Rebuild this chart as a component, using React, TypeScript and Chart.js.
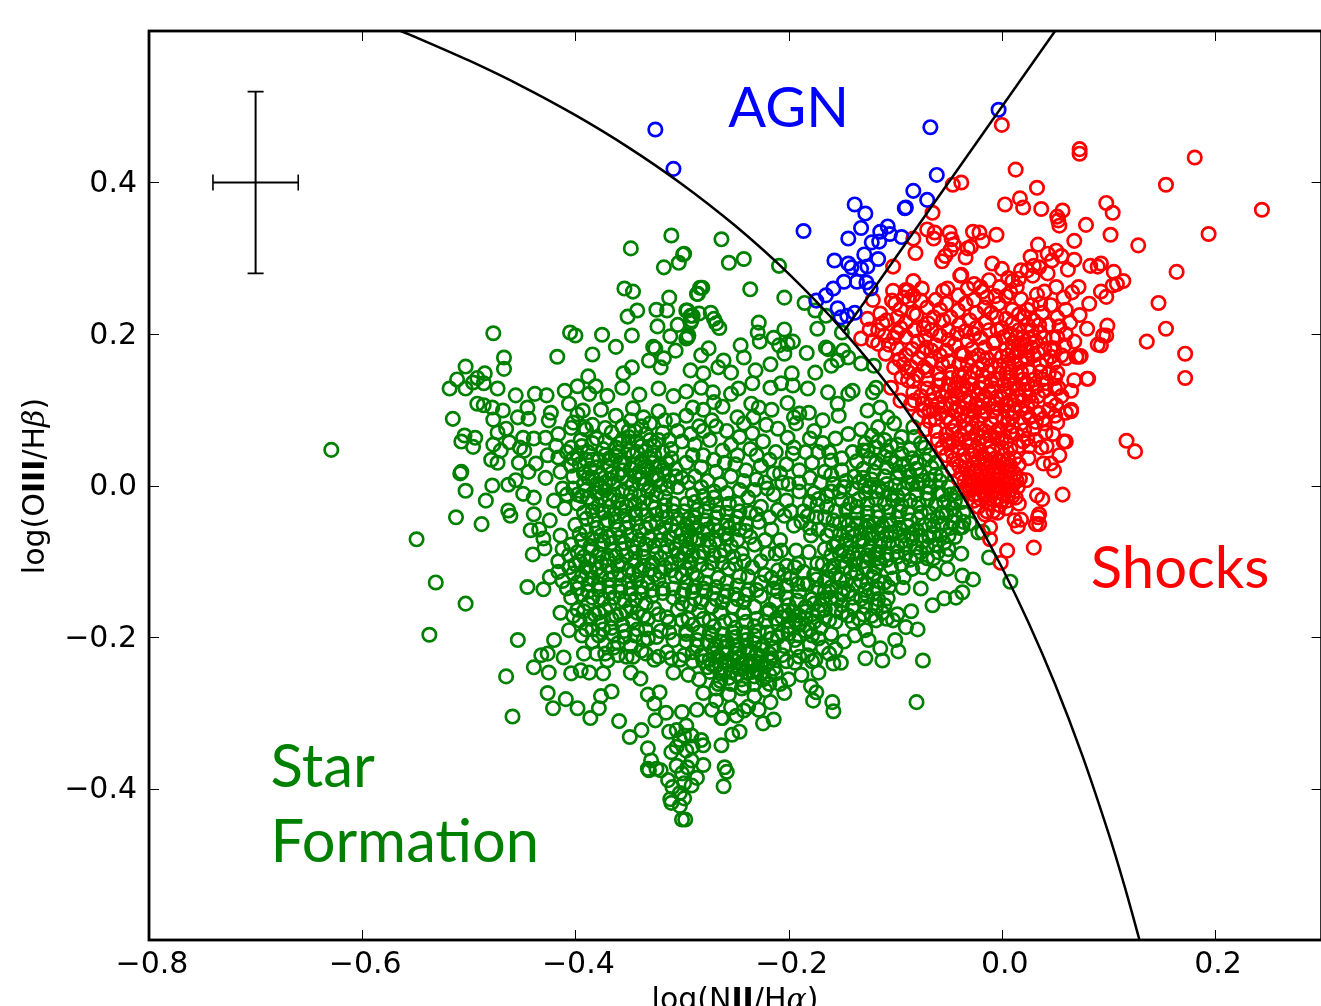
import React, { useEffect, useRef } from "react";
import { Chart, registerables } from "chart.js";
Chart.register(...registerables);

type P = [number, number];

const xTickValues = [-0.8, -0.6, -0.4, -0.2, 0, 0.2];
const yTickValues = [-0.4, -0.2, 0, 0.2, 0.4];

const agnPoints: P[] = [[-.325,.470],[-.308,.418],[-.003,.496],[-.067,.473],[-.061,.410],[-.083,.389],[-.070,.377],[-.090,.367],[-.091,.366],[-.138,.371],[-.128,.359],[-.186,.336],[-.132,.340],[-.144,.326],[-.107,.342],[-.114,.335],[-.105,.332],[-.094,.328],[-.115,.322],[-.122,.321],[-.129,.305],[-.116,.299],[-.157,.297],[-.144,.293],[-.141,.288],[-.132,.286],[-.126,.289],[-.148,.269],[-.136,.269],[-.127,.268],[-.123,.260],[-.158,.260],[-.165,.251],[-.174,.244],[-.154,.234],[-.151,.222],[-.145,.224],[-.138,.228]];

const shockOuter: P[] = [[.244,.364],[.194,.332],[.181,.433],[.154,.397],[.128,.317],[.164,.282],[.147,.241],[.154,.207],[.172,.174],[.172,.142],[.136,.190],[.117,.059],[.125,.045],[.098,.373],[.104,.360],[.079,.344],[.102,.331],[.093,.293],[.090,.289],[.114,.270],[.105,.282],[.104,.264],[.108,.266],[.093,.256],[.098,.249],[.083,.290],[.099,.211],[.093,.185],[.098,.198],[.082,.240],[.080,.207],[.070,.170],[.074,.171],[.080,.141],[.000,.476],[.013,.417],[.033,.393],[.073,.444],[.073,.438],[-.046,.397],[-.038,.400],[.017,.379],[.003,.371],[.020,.367],[.037,.365],[.057,.363],[.052,.355],[.053,.350],[.054,.343],[-.065,.360]];

const shockUpper: P[] = [[-.070,.338],[-.063,.334],[-.064,.326],[-.083,.326],[-.081,.307],[-.049,.334],[-.047,.325],[-.045,.318],[-.048,.311],[-.053,.303],[-.056,.296],[-.027,.335],[-.021,.334],[-.018,.323],[-.005,.331],[-.029,.315],[-.032,.313],[-.034,.301],[-.102,.289],[.034,.318],[.068,.323],[.027,.302],[-.009,.293],[0,.286],[-.038,.278],[.051,.310],[.043,.306],[.056,.303],[.068,.298],[.030,.290],[.024,.284],[.035,.288],[.029,.277],[.043,.280],[.018,.284],[.006,.274],[.010,.270],[.016,.273],[.047,.297],[.062,.285],[.072,.262],[.066,.255],[.058,.248],[.051,.262],[.040,.256],[.033,.252],[.046,.238],[.060,.232],[.073,.225],[.064,.215],[.052,.222],[.038,.228],[.028,.238],[.018,.246],[.008,.255],[-.002,.262],[-.012,.271],[-.020,.262],[-.014,.248],[-.003,.240],[.010,.232],[.021,.222]];

const shockLeft: P[] = [[-.121,.245],[-.126,.220],[-.114,.227],[-.112,.214],[-.102,.257],[-.103,.244],[-.088,.257],[-.083,.270],[-.083,.251],[-.076,.244],[-.083,.227],[-.080,.225],[-.095,.233],[-.095,.208],[-.098,.202],[-.101,.195],[-.116,.187],[-.121,.191],[-.132,.194],[-.109,.174],[-.098,.181],[-.079,.190],[-.071,.182],[-.064,.222],[-.069,.214],[-.055,.218],[-.051,.260],[-.055,.257],[-.039,.277],[-.041,.251],[-.041,.231],[-.048,.222],[-.026,.266],[-.032,.260],[-.024,.228],[-.026,.200],[-.032,.191],[-.101,.156],[-.104,.129],[-.085,.156],[-.088,.139],[-.083,.123],[-.095,.112],[-.073,.099],[-.073,.156],[-.090,.258],[-.087,.245],[-.075,.260],[-.066,.205],[-.058,.198],[-.050,.205],[-.040,.212],[-.030,.218],[-.015,.215],[-.005,.222],[-.012,.205],[.000,.208],[.010,.214],[-.020,.195],[-.006,.190],[-.090,.196],[-.082,.205],[-.073,.208],[-.062,.185],[-.052,.178],[-.044,.186],[-.036,.172],[-.090,.172],[-.078,.168],[-.066,.165],[-.056,.160],[-.047,.150],[-.094,.143],[-.079,.146],[-.069,.140],[-.060,.132],[-.076,.118],[-.066,.112],[-.056,.118],[-.050,.132],[-.085,.108],[-.078,.090],[-.068,.085],[-.058,.095],[-.062,.072],[-.052,.068],[-.048,.084],[-.056,.050],[-.047,.045],[-.041,.062]];

const shockCore: P[] = [[-.040,.145],[-.036,.132],[-.030,.142],[-.026,.125],[-.042,.118],[-.034,.112],[-.024,.108],[-.018,.135],[-.016,.118],[-.012,.150],[-.008,.128],[-.022,.155],[-.032,.160],[-.014,.168],[-.002,.158],[.006,.172],[.012,.160],[.004,.148],[.016,.176],[.010,.188],[.020,.195],[.024,.168],[.018,.150],[.028,.182],[.036,.160],[.030,.140],[.012,.135],[.002,.122],[.022,.126],[.008,.112],[-.004,.102],[.018,.100],[.028,.110],[.040,.125],[.034,.096],[.044,.148],[.046,.112],[-.038,.095],[-.028,.088],[-.018,.092],[-.010,.082],[-.002,.075],[.010,.090],[.014,.068],[.004,.058],[-.034,.075],[-.024,.068],[-.014,.060],[-.040,.050],[-.030,.052],[-.020,.045],[-.008,.045],[.002,.040],[.012,.036],[-.034,.032],[-.026,.028],[-.016,.026],[-.006,.024],[.004,.020],[.012,.016],[-.038,.016],[-.030,.012],[-.022,.008],[-.012,.006],[-.003,.008],[.006,.002],[.015,-.002],[-.028,.000],[-.018,-.006],[-.008,-.008],[.002,-.012],[.010,-.014],[-.020,-.018],[-.012,-.024],[-.002,-.026],[.005,-.020],[-.015,.035],[-.003,.034],[-.024,.020],[-.012,.015],[-.006,.000],[.003,.012],[-.016,.012],[-.032,.022],[.000,.050],[.008,.070],[-.020,.075],[-.030,.100],[-.008,.098],[.000,.115],[-.020,.128],[.008,.150],[.015,.118],[.026,.150],[.038,.140],[.022,.170],[.016,.205],[.028,.205],[.040,.195],[.035,.212],[.046,.180],[.060,.200],[.068,.190],[.056,.172]];

const shockDense: P[] = [[-.044,.128],[-.038,.122],[-.033,.128],[-.028,.134],[-.022,.120],[-.018,.112],[-.012,.124],[-.046,.108],[-.040,.104],[-.030,.116],[-.026,.097],[-.020,.103],[-.012,.108],[-.005,.116],[-.048,.142],[-.042,.136],[-.035,.148],[-.026,.150],[-.018,.146],[-.010,.138],[-.004,.140],[.002,.134],[.008,.128],[.014,.148],[.020,.140],[.006,.160],[.012,.170],[.018,.163],[.004,.180],[-.006,.174],[.014,.196],[.008,.200],[.022,.186],[.030,.172],[.026,.194],[.002,.196],[-.004,.205],[-.022,.172],[-.028,.180],[-.040,.160],[-.050,.164],[-.036,.086],[-.044,.078],[-.038,.066],[-.030,.062],[-.022,.056],[-.028,.076],[-.016,.072],[-.010,.066],[-.004,.062],[-.045,.034],[-.040,.026],[-.036,.040],[-.028,.040],[-.022,.034],[-.012,.042],[-.006,.036],[.002,.028],[.008,.026],[.016,.028],[-.035,.006],[-.026,.016],[-.020,.018],[-.014,.022],[-.008,.014],[-.002,.016],[.002,.002],[.008,.010],[.014,.006],[-.030,-.006],[-.024,-.004],[-.014,-.002],[-.010,.002],[.000,-.004],[.008,-.006],[-.026,-.012],[-.014,-.014],[-.006,-.016],[.000,-.020],[.004,-.030],[-.022,-.028],[-.014,-.034],[-.004,-.036],[.008,.048],[.016,.052],[.024,.062],[.018,.082],[.026,.090],[.010,.078],[.002,.088],[-.006,.090],[.024,.104],[.012,.106],[.006,.098],[.034,.118],[.044,.100],[.040,.082],[.032,.084],[.050,.092],[.050,.142],[.042,.165],[.034,.175],[.040,.180],[.048,.195],[.054,.210],[.044,.212],[.030,.218],[.024,.212],[-.060,.148],[-.070,.152],[-.064,.122],[-.070,.128],[-.072,.074],[-.062,.088],[-.054,.104],[-.052,.060],[-.049,.055],[-.083,.138],[-.092,.160],[-.110,.198],[-.106,.186],[-.116,.205],[-.124,.206],[-.108,.218],[-.098,.222],[-.090,.215],[-.100,.240],[-.092,.248],[-.070,.235],[-.062,.245],[-.058,.232],[-.052,.240],[-.034,.240],[-.026,.245],[-.016,.235],[-.010,.228],[-.006,.250],[.004,.250],[.014,.262]];

const shockExtra: P[] = [[-.058,.140],[-.052,.125],[-.047,.118],[-.044,.098],[-.036,.102],[-.032,.092],[-.022,.082],[-.016,.098],[-.006,.108],[.004,.108],[.012,.098],[.020,.112],[.026,.118],[.032,.130],[.024,.134],[.016,.128],[.006,.138],[-.002,.148],[-.010,.158],[-.018,.160],[-.028,.168],[-.038,.174],[-.016,.182],[-.008,.188],[.000,.170],[.010,.178],[.018,.186],[.024,.178],[.032,.190],[.036,.150],[.042,.135],[-.060,.108],[-.052,.090],[-.046,.072],[-.052,.040],[-.046,.022],[-.040,.008],[-.034,.058],[-.026,.046],[-.018,.038],[-.010,.030],[-.002,.024],[.006,.034],[-.018,.064],[-.006,.070],[.000,.062],[.006,.082],[-.014,.002],[-.020,-.002],[-.026,.004],[-.032,.000],[-.004,.002],[.010,.000],[-.018,.000],[-.008,-.002],[-.002,-.008],[.006,-.012],[-.016,-.012],[-.022,-.012],[-.074,.176],[-.066,.178],[-.058,.172],[-.050,.192],[-.042,.200],[-.034,.204],[-.024,.208],[-.072,.196],[-.084,.180],[-.096,.166],[-.088,.150],[-.082,.112],[-.074,.108],[-.064,.100],[-.068,.098],[-.060,.060],[-.046,.058],[.004,.220],[.016,.226],[.024,.232],[.036,.240],[-.018,.256],[.036,.202],[.052,.196],[.046,.170],[.050,.128],[.056,.118]];

const shockLower: P[] = [[.065,.098],[.058,.058],[.057,-.012],[.038,-.018],[.033,-.013],[.034,-.042],[.032,-.051],[.030,-.082],[.005,-.086],[.012,-.046],[.015,-.054],[.018,-.045],[.016,-.024],[.013,-.016],[-.011,-.055],[-.011,-.071],[-.001,-.102],[.035,-.038],[.035,-.051],[.017,.009],[.023,.007],[.060,.058],[.054,.040],[.049,.020],[.046,.029],[.039,.029],[.037,.050],[.025,.036],[.065,.100],[.060,.096],[.052,.083],[.041,.070],[.030,.075],[.021,.073],[.039,.088],[.035,.095],[.023,.096],[.051,.106],[.081,.141],[.068,.139],[.065,.125],[.053,.129],[.052,.149],[.073,.170],[.060,.168],[.049,.162],[.059,.185],[.049,.181],[.090,.186],[.095,.198],[-.008,-.034],[-.016,-.038],[-.026,-.020],[-.034,-.004],[.026,.052],[.020,.058],[.032,.060],[.042,.052],[.048,.068]];

const starUpper: P[] = [[-.629,.047],[-.310,.330],[-.348,.313],[-.299,.305],[-.303,.294],[-.317,.288],[-.354,.260],[-.346,.256],[-.312,.248],[-.283,.261],[-.286,.253],[-.342,.231],[-.351,.223],[-.324,.232],[-.314,.231],[-.295,.231],[-.292,.224],[-.291,.218],[-.323,.210],[-.304,.212],[-.347,.198],[-.311,.197],[-.294,.198],[-.296,.194],[-.477,.201],[-.405,.202],[-.400,.198],[-.375,.199],[-.362,.183],[-.417,.170],[-.384,.173],[-.327,.183],[-.325,.181],[-.306,.178],[-.331,.165],[-.317,.168],[-.320,.156],[-.263,.325],[-.256,.294],[-.242,.299],[-.209,.290],[-.236,.259],[-.281,.261],[-.285,.253],[-.204,.248],[-.185,.241],[-.173,.207],[-.175,.231],[-.165,.224],[-.150,.202],[-.298,.306],[-.228,.215],[-.229,.202],[-.227,.190],[-.204,.206],[-.214,.195],[-.196,.190],[-.201,.187],[-.209,.185],[-.204,.174],[-.183,.175],[-.245,.185],[-.275,.181],[-.273,.228],[-.270,.220],[-.268,.214],[-.265,.208],[-.296,.231],[-.290,.224],[-.292,.215],[-.284,.227],[-.295,.195],[-.242,.169],[-.217,.160],[-.197,.148],[-.175,.149],[-.182,.128],[-.165,.182],[-.163,.180],[-.149,.178],[-.154,.165],[-.144,.169],[-.160,.158],[-.132,.161],[-.120,.158],[-.118,.129],[-.121,.123],[-.144,.121],[-.140,.125],[-.163,.123],[-.154,.108],[-.207,.135],[-.196,.132],[-.217,.129],[-.231,.152],[-.234,.135],[-.247,.128],[-.254,.149],[-.261,.165],[-.266,.156],[-.282,.172],[-.292,.152],[-.280,.148],[-.271,.123],[-.282,.129],[-.290,.103],[-.254,.121],[-.270,.110],[-.235,.108],[-.228,.103],[-.248,.090],[-.233,.090],[-.221,.080],[-.234,.069],[-.195,.050],[-.201,.063],[-.201,.109],[-.195,.090],[-.193,.082],[-.190,.095],[-.181,.096],[-.168,.086],[-.153,.092],[-.160,.033],[-.130,.046],[-.126,.046],[-.126,.099],[-.114,.103],[-.107,.090],[-.101,.082],[-.116,.077],[-.083,.077]];

const starLeft: P[] = [[-.467,.169],[-.467,.154],[-.503,.157],[-.485,.148],[-.511,.140],[-.518,.128],[-.492,.142],[-.496,.136],[-.486,.135],[-.503,.128],[-.473,.128],[-.388,.144],[-.398,.131],[-.381,.131],[-.355,.148],[-.347,.156],[-.356,.129],[-.410,.125],[-.387,.121],[-.456,.119],[-.438,.121],[-.427,.119],[-.492,.108],[-.486,.106],[-.478,.103],[-.468,.099],[-.477,.087],[-.515,.088],[-.445,.103],[-.454,.090],[-.444,.088],[-.423,.096],[-.425,.086],[-.406,.108],[-.393,.099],[-.392,.077],[-.402,.083],[-.465,.075],[-.473,.070],[-.504,.066],[-.494,.063],[-.507,.058],[-.496,.051],[-.449,.063],[-.439,.062],[-.428,.063],[-.477,.054],[-.462,.057],[-.470,.046],[-.448,.046],[-.479,.034],[-.473,.030],[-.453,.030],[-.437,.029],[-.416,.037],[-.404,.050],[-.507,.018],[-.508,.016],[-.503,-.007],[-.484,-.020],[-.478,0],[-.463,.001],[-.456,.007],[-.512,-.042],[-.488,-.051],[-.463,-.033],[-.461,-.040],[-.549,-.071],[-.531,-.128],[-.503,-.156],[-.537,-.197],[-.454,-.204],[-.465,-.252],[-.459,-.305],[-.426,-.274],[-.421,-.294],[-.409,-.282],[-.398,-.294],[-.376,-.278],[-.366,-.272],[-.378,-.294],[-.386,-.307],[-.359,-.311],[-.445,-.134],[-.430,-.137],[-.424,-.121],[-.440,-.091],[-.429,-.083],[-.439,-.038],[-.442,-.059],[-.434,-.058],[-.430,-.070],[-.449,-.011],[-.439,-.016],[-.439,-.240],[-.432,-.224],[-.426,-.222],[-.425,-.247],[-.420,-.204],[-.414,-.168],[-.411,-.227],[-.404,-.248],[-.395,-.244],[-.387,-.247],[-.374,-.248],[-.348,-.247],[-.339,-.255],[-.332,-.276],[-.321,-.273],[-.326,-.288],[-.308,-.247],[-.406,-.191],[-.392,-.222],[-.370,-.231]];

const starTail: P[] = [[-.261,-.397],[-.300,-.441],[-.297,-.441],[-.349,-.332],[-.338,-.323],[-.332,-.347],[-.329,-.363],[-.332,-.374],[-.324,-.374],[-.320,-.376],[-.331,-.376],[-.313,-.389],[-.309,-.398],[-.302,-.406],[-.298,-.393],[-.310,-.419],[-.311,-.414],[-.302,-.423],[-.298,-.413],[-.291,-.396],[-.286,-.386],[-.280,-.369],[-.280,-.343],[-.291,-.363],[-.296,-.350],[-.302,-.336],[-.291,-.330],[-.305,-.323],[-.296,-.317],[-.282,-.336],[-.263,-.343],[-.258,-.378],[-.260,-.372],[-.253,-.329],[-.246,-.325],[-.249,-.304],[-.263,-.307],[-.272,-.296],[-.286,-.296],[-.300,-.299],[-.310,-.352],[-.305,-.370],[-.300,-.380],[-.295,-.372],[-.305,-.345],[-.298,-.330],[-.315,-.300],[-.325,-.310],[-.312,-.325],[-.290,-.345]];

const starRight: P[] = [[-.080,-.286],[-.074,-.231],[-.027,-.124],[-.037,-.119],[-.037,-.141],[-.043,-.148],[-.037,-.055],[-.079,-.190],[-.085,-.166],[-.090,-.187],[-.097,-.219],[-.100,-.204],[-.114,-.215],[-.112,-.231],[-.128,-.228],[-.125,-.204],[-.128,-.191],[-.158,-.298],[-.159,-.286],[-.177,-.284],[-.174,-.273],[-.179,-.265],[-.204,-.274],[-.172,-.247],[-.175,-.230],[-.151,-.234],[-.158,-.235],[-.214,-.309],[-.224,-.314],[-.262,-.307],[-.254,-.293],[-.268,-.284],[-.242,-.297],[-.217,-.286],[-.038,-.090],[-.051,-.110],[-.065,-.158],[-.054,-.149],[-.076,-.136],[-.064,-.116],[-.074,-.108],[-.092,-.121],[-.102,-.123],[-.093,-.135],[-.107,-.149],[-.182,-.040],[-.195,-.053],[-.179,-.066],[-.173,-.026],[-.207,-.086],[-.193,-.086],[-.191,-.103],[-.181,-.088],[-.173,-.103],[-.163,-.123],[-.121,-.121],[-.118,-.108],[-.022,-.062],[-.018,-.061],[-.012,-.095],[.008,-.127]];

const starCoreNorth: P[] = [[-.395,.060],[-.388,.044],[-.380,.062],[-.374,.048],[-.366,.070],[-.358,.056],[-.350,.072],[-.342,.058],[-.334,.068],[-.326,.052],[-.318,.070],[-.310,.048],[-.396,.028],[-.386,.022],[-.378,.034],[-.370,.026],[-.362,.038],[-.354,.030],[-.346,.040],[-.338,.032],[-.330,.036],[-.322,.026],[-.314,.030],[-.306,.022],[-.392,.002],[-.384,.010],[-.376,-.002],[-.368,.008],[-.360,.014],[-.352,.004],[-.344,.012],[-.336,.002],[-.328,.010],[-.320,.000],[-.312,.006],[-.304,-.002],[-.398,.094],[-.376,.100],[-.362,.092],[-.346,.102],[-.336,.090],[-.322,.098],[-.308,.086],[-.296,.092],[-.284,.078],[-.272,.086],[-.258,.072],[-.246,.064],[-.288,.054],[-.274,.060],[-.262,.046],[-.248,.040],[-.236,.048],[-.224,.058],[-.212,.044],[-.296,.030],[-.282,.024],[-.268,.018],[-.254,.012],[-.240,.020],[-.226,.026],[-.214,.016],[-.202,.028],[-.190,.020],[-.178,.030],[-.166,.018],[-.180,.062],[-.168,.056],[-.156,.062],[-.144,.068],[-.132,.074],[-.140,.044],[-.150,.036],[-.340,.120],[-.322,.128],[-.308,.118],[-.296,.124],[-.370,.118],[-.416,.068],[-.426,.040],[-.414,.018],[-.428,.010],[-.412,-.004],[-.402,.012],[-.418,.052],[-.444,.018],[-.452,.050],[-.404,.076],[-.280,.100],[-.262,.104],[-.210,.075],[-.216,.100],[-.176,.072],[-.122,.066],[-.110,.060],[-.098,.054],[-.086,.048],[-.104,.036],[-.092,.028],[-.080,.022],[-.068,.040],[-.076,.056],[-.118,.030],[-.130,.022]];

const starCoreMiddle: P[] = [[-.398,-.024],[-.388,-.016],[-.378,-.026],[-.368,-.018],[-.358,-.030],[-.348,-.020],[-.338,-.032],[-.328,-.022],[-.318,-.034],[-.308,-.024],[-.298,-.034],[-.288,-.022],[-.278,-.034],[-.268,-.026],[-.258,-.036],[-.248,-.024],[-.238,-.016],[-.226,-.028],[-.214,-.012],[-.202,-.020],[-.190,-.008],[-.176,-.010],[-.164,-.014],[-.152,-.008],[-.140,-.004],[-.128,-.010],[-.116,-.002],[-.104,-.012],[-.092,-.004],[-.080,-.012],[-.068,-.002],[-.056,-.012],[-.044,-.020],[-.050,-.002],[-.062,.014],[-.074,.006],[-.086,.012],[-.098,.010],[-.110,.012],[-.122,.008],[-.134,.004],[-.146,.006],[-.158,.002],[-.400,-.052],[-.390,-.044],[-.380,-.056],[-.370,-.046],[-.360,-.058],[-.350,-.048],[-.340,-.060],[-.330,-.050],[-.320,-.062],[-.310,-.052],[-.300,-.064],[-.290,-.050],[-.280,-.062],[-.270,-.052],[-.260,-.064],[-.250,-.050],[-.240,-.060],[-.228,-.048],[-.216,-.058],[-.204,-.040],[-.166,-.042],[-.156,-.034],[-.146,-.046],[-.136,-.036],[-.126,-.048],[-.116,-.034],[-.106,-.046],[-.096,-.034],[-.086,-.046],[-.076,-.036],[-.066,-.046],[-.056,-.036],[-.046,-.048],[-.036,-.036],[-.030,-.050],[-.410,-.030],[-.420,-.020],[-.424,-.046],[-.414,-.066],[-.404,-.078],[-.394,-.072],[-.384,-.084],[-.374,-.074],[-.364,-.086],[-.354,-.076],[-.344,-.088],[-.334,-.078],[-.324,-.090],[-.314,-.080],[-.304,-.092],[-.294,-.082],[-.284,-.094],[-.274,-.080],[-.264,-.092],[-.254,-.080],[-.244,-.090],[-.232,-.078],[-.220,-.090],[-.208,-.072],[-.164,-.066],[-.154,-.076],[-.144,-.062],[-.134,-.074],[-.124,-.062],[-.114,-.072],[-.104,-.062],[-.094,-.074],[-.084,-.064],[-.074,-.074],[-.064,-.064],[-.054,-.076],[-.044,-.068],[-.160,-.092],[-.150,-.100],[-.140,-.090],[-.130,-.100],[-.118,-.090],[-.108,-.098],[-.098,-.088],[-.086,-.098],[-.076,-.088],[-.064,-.096],[-.052,-.092]];

const starCoreSouth: P[] = [[-.416,-.100],[-.406,-.108],[-.396,-.100],[-.386,-.112],[-.376,-.102],[-.366,-.114],[-.356,-.104],[-.346,-.116],[-.336,-.106],[-.326,-.118],[-.316,-.108],[-.306,-.120],[-.296,-.110],[-.286,-.122],[-.276,-.112],[-.266,-.122],[-.256,-.110],[-.246,-.120],[-.234,-.108],[-.222,-.118],[-.210,-.112],[-.198,-.122],[-.186,-.114],[-.174,-.124],[-.162,-.112],[-.152,-.124],[-.142,-.114],[-.132,-.126],[-.120,-.116],[-.110,-.128],[-.408,-.136],[-.398,-.128],[-.388,-.140],[-.378,-.130],[-.368,-.142],[-.358,-.132],[-.348,-.144],[-.338,-.134],[-.328,-.146],[-.318,-.136],[-.308,-.148],[-.298,-.138],[-.288,-.150],[-.278,-.140],[-.268,-.150],[-.258,-.140],[-.248,-.150],[-.238,-.138],[-.226,-.146],[-.214,-.136],[-.202,-.148],[-.190,-.140],[-.178,-.150],[-.166,-.140],[-.154,-.150],[-.144,-.140],[-.132,-.150],[-.120,-.142],[-.110,-.158],[-.398,-.164],[-.388,-.156],[-.378,-.168],[-.368,-.158],[-.358,-.170],[-.348,-.160],[-.336,-.172],[-.326,-.162],[-.314,-.174],[-.304,-.164],[-.294,-.176],[-.284,-.166],[-.274,-.178],[-.264,-.168],[-.254,-.178],[-.242,-.168],[-.230,-.176],[-.218,-.164],[-.206,-.174],[-.196,-.166],[-.184,-.176],[-.172,-.166],[-.162,-.178],[-.150,-.168],[-.140,-.180],[-.130,-.170],[-.118,-.178],[-.108,-.176],[-.098,-.170],[-.390,-.190],[-.378,-.198],[-.366,-.188],[-.354,-.200],[-.342,-.190],[-.332,-.202],[-.320,-.192],[-.308,-.204],[-.296,-.192],[-.286,-.204],[-.274,-.194],[-.264,-.206],[-.252,-.194],[-.240,-.204],[-.228,-.192],[-.216,-.202],[-.206,-.194],[-.194,-.204],[-.184,-.192],[-.172,-.202],[-.160,-.196],[-.148,-.206],[-.138,-.198],[-.380,-.222],[-.364,-.214],[-.352,-.226],[-.338,-.218],[-.326,-.230],[-.314,-.220],[-.302,-.230],[-.290,-.220],[-.280,-.232],[-.270,-.222],[-.260,-.234],[-.250,-.222],[-.240,-.234],[-.230,-.222],[-.218,-.232],[-.206,-.224],[-.194,-.234],[-.182,-.224],[-.162,-.222],[-.294,-.250],[-.284,-.256],[-.274,-.246],[-.264,-.258],[-.254,-.246],[-.244,-.256],[-.234,-.246],[-.224,-.256],[-.212,-.248],[-.200,-.256],[-.188,-.250],[-.280,-.274],[-.268,-.268],[-.256,-.276],[-.244,-.268],[-.232,-.278],[-.222,-.270],[-.208,-.262],[-.238,-.292],[-.228,-.296]];

const starBlobWest: P[] = [[-.392,.016],[-.384,.034],[-.376,.014],[-.372,.040],[-.366,.016],[-.360,.044],[-.356,.020],[-.350,.046],[-.348,.022],[-.342,.044],[-.340,.018],[-.334,.046],[-.332,.022],[-.326,.040],[-.324,.014],[-.318,.044],[-.316,.016],[-.380,-.010],[-.372,-.006],[-.364,-.012],[-.356,-.008],[-.348,-.010],[-.340,-.014],[-.332,-.008],[-.324,-.012],[-.316,-.016],[-.384,-.034],[-.374,-.036],[-.364,-.038],[-.354,-.040],[-.344,-.038],[-.334,-.040],[-.324,-.038],[-.314,-.042],[-.304,-.044],[-.294,-.044],[-.390,-.060],[-.384,-.070],[-.376,-.066],[-.368,-.068],[-.358,-.068],[-.348,-.066],[-.340,-.072],[-.330,-.070],[-.320,-.072],[-.312,-.068],[-.302,-.074],[-.292,-.070],[-.284,-.072],[-.398,-.088],[-.392,-.094],[-.386,-.098],[-.378,-.090],[-.370,-.096],[-.362,-.094],[-.352,-.092],[-.344,-.100],[-.336,-.094],[-.328,-.102],[-.320,-.096],[-.310,-.102],[-.302,-.098],[-.406,-.092],[-.412,-.084],[-.402,-.116],[-.394,-.120],[-.384,-.122],[-.376,-.118],[-.368,-.124],[-.358,-.118],[-.350,-.126],[-.342,-.124],[-.332,-.128],[-.322,-.124],[-.412,-.126],[-.416,-.114],[-.404,-.148],[-.394,-.144],[-.384,-.148],[-.374,-.150],[-.364,-.148],[-.354,-.152],[-.344,-.150],[-.334,-.156],[-.396,-.178],[-.386,-.176],[-.376,-.180],[-.366,-.176],[-.356,-.184],[-.346,-.178],[-.384,-.206],[-.372,-.210],[-.360,-.208],[-.348,-.212],[-.336,-.204],[-.398,.040],[-.402,.036],[-.408,.044],[-.404,.026],[-.408,-.012],[-.402,-.004],[-.398,-.012],[-.390,-.006],[-.356,.060],[-.350,.058],[-.344,.072],[-.338,.078],[-.330,.082],[-.348,.086],[-.356,.078],[-.372,.076],[-.384,.080],[-.390,.074]];

const starBlobCentre: P[] = [[-.300,.010],[-.294,.004],[-.288,.012],[-.282,-.002],[-.276,.006],[-.270,-.008],[-.264,.002],[-.258,-.010],[-.290,-.012],[-.280,-.014],[-.270,-.016],[-.296,-.024],[-.286,-.032],[-.276,-.024],[-.266,-.036],[-.256,-.024],[-.246,-.034],[-.236,-.036],[-.296,-.052],[-.288,-.042],[-.278,-.046],[-.268,-.042],[-.258,-.048],[-.248,-.042],[-.240,-.050],[-.294,-.060],[-.286,-.056],[-.276,-.058],[-.266,-.060],[-.256,-.056],[-.246,-.058],[-.236,-.068],[-.296,-.072],[-.286,-.070],[-.276,-.072],[-.268,-.072],[-.258,-.070],[-.248,-.072],[-.298,-.090],[-.290,-.092],[-.280,-.088],[-.270,-.092],[-.260,-.086],[-.252,-.094],[-.242,-.100],[-.292,-.102],[-.282,-.104],[-.272,-.102],[-.262,-.102],[-.250,-.104],[-.296,-.128],[-.288,-.134],[-.278,-.128],[-.268,-.134],[-.258,-.128],[-.248,-.132],[-.300,-.156],[-.292,-.158],[-.282,-.154],[-.272,-.160],[-.262,-.154],[-.252,-.160],[-.242,-.154],[-.232,-.160],[-.300,-.178],[-.290,-.184],[-.280,-.176],[-.270,-.186],[-.260,-.180],[-.250,-.188],[-.240,-.180],[-.232,-.186],[-.222,-.180],[-.296,-.206],[-.286,-.212],[-.276,-.206],[-.268,-.212],[-.258,-.206],[-.250,-.212],[-.240,-.214],[-.232,-.208],[-.224,-.212],[-.282,-.224],[-.274,-.230],[-.266,-.226],[-.258,-.222],[-.252,-.230],[-.246,-.226],[-.238,-.222],[-.232,-.232],[-.226,-.226],[-.218,-.222],[-.276,-.240],[-.268,-.238],[-.260,-.244],[-.252,-.238],[-.246,-.242],[-.238,-.238],[-.230,-.244],[-.222,-.238],[-.214,-.242],[-.264,-.248],[-.256,-.254],[-.248,-.250],[-.240,-.246],[-.232,-.252],[-.226,-.248],[-.218,-.250],[-.316,.086],[-.304,.072],[-.292,.068],[-.280,.072],[-.268,.078],[-.254,.054],[-.242,.082],[-.230,.040],[-.218,.034],[-.208,.016],[-.206,.004],[-.222,.004],[-.232,-.006],[-.246,-.006],[-.300,.058],[-.290,.040],[-.280,.040],[-.270,.034],[-.260,.030],[-.250,.028]];

const starBlobEast: P[] = [[-.150,-.020],[-.142,-.024],[-.134,-.018],[-.126,-.024],[-.118,-.018],[-.110,-.024],[-.102,-.020],[-.094,-.026],[-.086,-.020],[-.078,-.024],[-.070,-.018],[-.062,-.026],[-.054,-.022],[-.046,-.030],[-.038,-.022],[-.152,-.050],[-.144,-.052],[-.136,-.050],[-.128,-.056],[-.120,-.050],[-.112,-.054],[-.104,-.052],[-.096,-.056],[-.088,-.054],[-.080,-.058],[-.072,-.052],[-.064,-.054],[-.056,-.050],[-.048,-.056],[-.040,-.056],[-.160,-.060],[-.152,-.064],[-.146,-.072],[-.138,-.066],[-.130,-.072],[-.122,-.070],[-.114,-.080],[-.106,-.076],[-.098,-.080],[-.090,-.078],[-.080,-.082],[-.070,-.082],[-.062,-.078],[-.166,-.084],[-.158,-.080],[-.150,-.086],[-.142,-.082],[-.134,-.088],[-.124,-.082],[-.116,-.088],[-.168,-.104],[-.158,-.106],[-.148,-.108],[-.138,-.104],[-.128,-.108],[-.124,-.096],[-.114,-.102],[-.104,-.108],[-.094,-.104],[-.084,-.110],[-.166,-.126],[-.156,-.118],[-.146,-.126],[-.136,-.116],[-.126,-.130],[-.116,-.126],[-.106,-.134],[-.160,-.134],[-.148,-.136],[-.138,-.130],[-.128,-.138],[-.116,-.136],[-.170,-.158],[-.160,-.148],[-.150,-.158],[-.140,-.160],[-.128,-.160],[-.118,-.160],[-.210,-.140],[-.200,-.158],[-.192,-.152],[-.184,-.160],[-.176,-.156],[-.168,-.150],[-.212,-.152],[-.204,-.166],[-.194,-.178],[-.184,-.166],[-.176,-.180],[-.166,-.174],[-.156,-.180],[-.220,-.168],[-.210,-.182],[-.200,-.186],[-.190,-.184],[-.180,-.190],[-.170,-.188],[-.130,.010],[-.120,.018],[-.108,.024],[-.096,.018],[-.084,.002],[-.076,.014],[-.066,.024],[-.056,.014],[-.048,-.012],[-.042,-.010],[-.062,.030],[-.072,.034],[-.084,.036],[-.094,.042],[-.108,.046],[-.118,.050],[-.092,-.012],[-.100,.000],[-.112,-.008],[-.124,-.002],[-.138,.012],[-.148,-.002],[-.160,-.008],[-.172,-.018],[-.180,-.022],[-.186,-.034],[-.174,-.042],[-.164,-.028],[-.158,-.046]];

const starFillWest: P[] = [[-.394,.052],[-.384,.056],[-.372,.058],[-.362,.050],[-.350,.064],[-.338,.052],[-.330,.060],[-.322,.060],[-.312,.060],[-.390,.034],[-.380,.024],[-.368,.036],[-.358,.030],[-.344,.028],[-.336,.024],[-.328,.030],[-.318,.020],[-.310,.036],[-.388,.010],[-.380,.002],[-.372,.004],[-.364,.002],[-.356,.012],[-.346,.002],[-.338,.010],[-.330,-.002],[-.322,.008],[-.314,-.004],[-.306,.012],[-.394,-.014],[-.384,-.022],[-.376,-.016],[-.368,-.028],[-.360,-.020],[-.352,-.028],[-.344,-.024],[-.336,-.022],[-.326,-.030],[-.316,-.026],[-.308,-.034],[-.392,-.036],[-.382,-.046],[-.372,-.050],[-.362,-.048],[-.352,-.056],[-.342,-.050],[-.334,-.056],[-.324,-.050],[-.316,-.056],[-.306,-.060],[-.396,-.064],[-.386,-.080],[-.376,-.078],[-.366,-.076],[-.356,-.084],[-.346,-.080],[-.336,-.084],[-.326,-.080],[-.316,-.088],[-.306,-.084],[-.296,-.084],[-.400,-.104],[-.390,-.108],[-.380,-.110],[-.370,-.106],[-.360,-.106],[-.350,-.112],[-.340,-.112],[-.330,-.112],[-.320,-.114],[-.310,-.112],[-.300,-.118],[-.290,-.116],[-.398,-.136],[-.388,-.130],[-.378,-.138],[-.368,-.134],[-.358,-.140],[-.348,-.136],[-.338,-.142],[-.328,-.138],[-.318,-.142],[-.308,-.136],[-.300,-.144],[-.402,-.172],[-.392,-.166],[-.382,-.170],[-.372,-.164],[-.362,-.172],[-.352,-.166],[-.342,-.168],[-.332,-.176],[-.322,-.170],[-.312,-.180],[-.394,-.198],[-.384,-.190],[-.374,-.190],[-.364,-.198],[-.354,-.192],[-.344,-.198],[-.334,-.190],[-.324,-.200],[-.312,-.194],[-.372,-.222],[-.360,-.224],[-.346,-.226],[-.334,-.222],[-.322,-.226],[-.310,-.228],[-.298,-.224]];

const starFillEast: P[] = [[-.290,-.140],[-.280,-.136],[-.270,-.142],[-.260,-.146],[-.250,-.144],[-.240,-.144],[-.230,-.138],[-.296,-.196],[-.284,-.194],[-.272,-.198],[-.262,-.196],[-.250,-.200],[-.242,-.194],[-.232,-.198],[-.220,-.194],[-.210,-.200],[-.200,-.196],[-.190,-.198],[-.178,-.198],[-.270,-.216],[-.260,-.214],[-.246,-.216],[-.236,-.218],[-.226,-.216],[-.214,-.214],[-.204,-.212],[-.192,-.214],[-.180,-.210],[-.168,-.214],[-.156,-.216],[-.290,-.232],[-.272,-.236],[-.258,-.232],[-.244,-.234],[-.234,-.238],[-.226,-.234],[-.216,-.228],[-.202,-.232],[-.190,-.226],[-.178,-.232],[-.266,-.262],[-.254,-.262],[-.242,-.264],[-.232,-.262],[-.218,-.262],[-.212,-.176],[-.200,-.172],[-.190,-.172],[-.178,-.170],[-.166,-.164],[-.156,-.164],[-.144,-.172],[-.134,-.176],[-.122,-.172],[-.112,-.168],[-.102,-.178],[-.212,-.128],[-.202,-.132],[-.192,-.130],[-.182,-.130],[-.172,-.136],[-.162,-.140],[-.150,-.144],[-.140,-.148],[-.126,-.146],[-.116,-.150],[-.152,-.090],[-.144,-.094],[-.136,-.096],[-.126,-.092],[-.116,-.096],[-.108,-.090],[-.098,-.094],[-.090,-.090],[-.080,-.094],[-.070,-.096],[-.060,-.088],[-.050,-.084],[-.146,-.032],[-.136,-.028],[-.126,-.036],[-.116,-.042],[-.106,-.034],[-.098,-.042],[-.088,-.036],[-.078,-.044],[-.068,-.036],[-.060,-.042],[-.052,-.038],[-.044,-.040],[-.036,-.048],[-.140,-.058],[-.132,-.062],[-.124,-.054],[-.116,-.062],[-.108,-.066],[-.100,-.062],[-.092,-.066],[-.084,-.070],[-.076,-.066],[-.068,-.068],[-.058,-.066],[-.050,-.066],[-.128,.000],[-.118,-.008],[-.108,.002],[-.098,-.014],[-.088,.004],[-.078,.002],[-.068,.008],[-.058,.006],[-.060,-.010],[-.070,-.010],[-.080,.030],[-.088,.018],[-.100,.030],[-.110,.038],[-.124,.036],[-.136,.032],[-.128,.056],[-.116,.058],[-.104,.052],[-.094,.064],[-.082,.064],[-.072,.050],[-.200,.002],[-.190,.004],[-.180,.010],[-.170,.004],[-.160,.014],[-.150,.020],[-.198,-.034],[-.188,-.048],[-.180,-.056],[-.172,-.058],[-.196,.042],[-.184,.044],[-.172,.044],[-.162,.044],[-.220,-.004],[-.230,.008],[-.242,.006],[-.210,-.032],[-.218,-.042],[-.230,-.038],[-.222,-.072],[-.212,-.090],[-.202,-.106],[-.226,-.100],[-.238,-.120],[-.226,-.128],[-.216,-.122],[-.204,-.118],[-.194,-.108],[-.186,-.130],[-.176,-.118]];

const kewleyX = [-0.57, -0.55, -0.5, -0.45, -0.4, -0.35, -0.3, -0.25, -0.2, -0.15, -0.1, -0.05, -0.025, 0, 0.025, 0.05, 0.075, 0.1, 0.115, 0.13];
const kewleyY = [0.6035, 0.592, 0.5611, 0.527, 0.4889, 0.4461, 0.3978, 0.3428, 0.2796, 0.2061, 0.1198, 0.0169, -0.0423, -0.1079, -0.1808, -0.2624, -0.3543, -0.4586, -0.5283, -0.6041];
const dividerX = [-0.149, 0.05];
const dividerY = [0.202, 0.6];
const errX = [-0.7, -0.7, -0.74, -0.66];
const errY = [0.52, 0.28, 0.4, 0.4];

const regionLabels = [
  { text: "AGN", x: -0.2565, y: 0.473, color: "#0000ff", size: 56 },
  { text: "Shocks", x: 0.0835, y: -0.135, color: "#ff0000", size: 58 },
  { text: "Star", x: -0.686, y: -0.3985, color: "#008000", size: 60 },
  { text: "Formation", x: -0.686, y: -0.497, color: "#008000", size: 59.6 },
];

const GREEN = "#008000";
const RED = "#ff0000";
const BLUE = "#0000ff";

const toXY = (pts: P[]) => pts.map(([x, y]) => ({ x, y }));
const zipXY = (xs: number[], ys: number[]) => xs.map((x, i) => ({ x, y: ys[i] }));
const fmt = (v: number) => (Math.abs(v) < 1e-9 ? "0.0" : (v < 0 ? "\u2212" : "") + Math.abs(v).toFixed(1));

type Seg = { t: string; f: string };
const segFont = (kind: string) =>
  kind === "b" ? 'bold 30px "DejaVu Sans"' : kind === "i" ? 'italic 30px "DejaVu Serif"' : '30px "DejaVu Sans"';
const xTitle: Seg[] = [{ t: "log(N", f: "r" }, { t: "II", f: "b" }, { t: "/H", f: "r" }, { t: "\u03b1", f: "i" }, { t: ")", f: "r" }];
const yTitle: Seg[] = [{ t: "log(O", f: "r" }, { t: "III", f: "b" }, { t: "/H", f: "r" }, { t: "\u03b2", f: "i" }, { t: ")", f: "r" }];

function drawSegs(ctx: CanvasRenderingContext2D, segs: Seg[]) {
  let w = 0;
  segs.forEach((s) => { ctx.font = segFont(s.f); w += ctx.measureText(s.t).width; });
  let x = -w / 2;
  ctx.textAlign = "left";
  ctx.textBaseline = "alphabetic";
  ctx.fillStyle = "#000";
  segs.forEach((s) => {
    ctx.font = segFont(s.f);
    ctx.fillText(s.t, x, 0);
    x += ctx.measureText(s.t).width;
  });
}

const framePlugin = {
  id: "frame",
  afterDraw(chart: any) {
    const { ctx, chartArea: a, scales } = chart;
    ctx.save();
    ctx.strokeStyle = "#000";
    ctx.lineWidth = 1;
    ctx.beginPath();
    xTickValues.forEach((v) => {
      const p = Math.round(scales.x.getPixelForValue(v)) + 0.5;
      ctx.moveTo(p, a.bottom); ctx.lineTo(p, a.bottom - 10);
      ctx.moveTo(p, a.top); ctx.lineTo(p, a.top + 10);
    });
    yTickValues.forEach((v) => {
      const p = Math.round(scales.y.getPixelForValue(v)) + 0.5;
      ctx.moveTo(a.left, p); ctx.lineTo(a.left + 10, p);
      ctx.moveTo(a.right, p); ctx.lineTo(a.right - 10, p);
    });
    ctx.stroke();
    ctx.lineWidth = 2.8;
    ctx.strokeRect(a.left, a.top, a.right - a.left, a.bottom - a.top);

    ctx.textAlign = "left";
    ctx.textBaseline = "alphabetic";
    regionLabels.forEach((l) => {
      ctx.font = `${l.size}px "Lato"`;
      ctx.fillStyle = l.color;
      ctx.fillText(l.text, scales.x.getPixelForValue(l.x), scales.y.getPixelForValue(l.y));
    });

    ctx.save();
    ctx.translate(735, 1009);
    drawSegs(ctx, xTitle);
    ctx.restore();
    ctx.save();
    ctx.translate(44, 486);
    ctx.rotate(-Math.PI / 2);
    drawSegs(ctx, yTitle);
    ctx.restore();
    ctx.restore();
  },
};

export default function App() {
  const ref = useRef<HTMLCanvasElement>(null);
  useEffect(() => {
    document.body.style.margin = "0";
    const circle = (data: any[], color: string, order: number) => ({
      type: "scatter" as const,
      data,
      order,
      showLine: false,
      pointStyle: "circle",
      pointRadius: 6.7,
      pointBorderWidth: 2.7,
      pointBackgroundColor: "rgba(0,0,0,0)",
      pointBorderColor: color,
    });
    const line = (data: any[], width: number, tension = 0) => ({
      type: "scatter" as const,
      data,
      order: 1,
      showLine: true,
      borderColor: "#000",
      borderWidth: width,
      tension,
      pointRadius: 0,
    });
    const errBar = (data: any[], rotation: number) => ({
      type: "scatter" as const,
      data,
      order: 1,
      showLine: true,
      borderColor: "#000",
      borderWidth: 2,
      pointStyle: "line",
      pointRadius: 8,
      pointRotation: rotation,
      pointBorderWidth: 1.6,
      pointBorderColor: "#000",
    });
    const errPts = zipXY(errX, errY);
    const chart = new Chart(ref.current!, {
      type: "scatter",
      data: {
        datasets: [
          circle(toXY([...starUpper, ...starLeft, ...starTail, ...starRight, ...starCoreNorth, ...starCoreMiddle, ...starCoreSouth, ...starBlobWest, ...starBlobCentre, ...starBlobEast, ...starFillWest, ...starFillEast]), GREEN, 5),
          circle(toXY([...shockOuter, ...shockUpper, ...shockLeft, ...shockCore, ...shockDense, ...shockExtra, ...shockLower]), RED, 4),
          circle(toXY(agnPoints), BLUE, 3),
          line(zipXY(kewleyX, kewleyY), 2.5, 0.3),
          line(zipXY(dividerX, dividerY), 2.5),
          errBar(errPts.slice(0, 2), 0),
          errBar(errPts.slice(2, 4), 90),
        ] as any,
      },
      options: {
        animation: false,
        responsive: false,
        devicePixelRatio: 1,
        layout: { padding: { left: 0, top: 31, right: 38.4, bottom: 0 } },
        plugins: { legend: { display: false }, tooltip: { enabled: false }, title: { display: false } },
        scales: {
          x: {
            type: "linear",
            min: -0.8,
            max: 0.3,
            grid: { display: false },
            border: { display: false },
            afterFit: (s: any) => { s.height = 100; },
            afterBuildTicks: (s: any) => { s.ticks = xTickValues.map((value) => ({ value })); },
            ticks: { autoSkip: false, maxRotation: 0, padding: -1, labelOffset: 3, color: "#000", font: { family: "DejaVu Sans", size: 30 }, callback: (v: any) => fmt(Number(v)) },
          },
          y: {
            type: "linear",
            min: -0.6,
            max: 0.6,
            grid: { display: false },
            border: { display: false },
            afterFit: (s: any) => { s.width = 149; },
            afterBuildTicks: (s: any) => { s.ticks = yTickValues.map((value) => ({ value })); },
            ticks: { autoSkip: false, padding: 4, labelOffset: 2, color: "#000", font: { family: "DejaVu Sans", size: 30 }, callback: (v: any) => fmt(Number(v)) },
          },
        },
      },
      plugins: [framePlugin],
    } as any);
    return () => chart.destroy();
  }, []);
  return (
    <div style={{ width: 1321, height: 1006, overflow: "hidden", position: "relative", background: "#fff" }}>
      <canvas ref={ref} width={1360} height={1040} style={{ display: "block", width: 1360, height: 1040 }} />
    </div>
  );
}
